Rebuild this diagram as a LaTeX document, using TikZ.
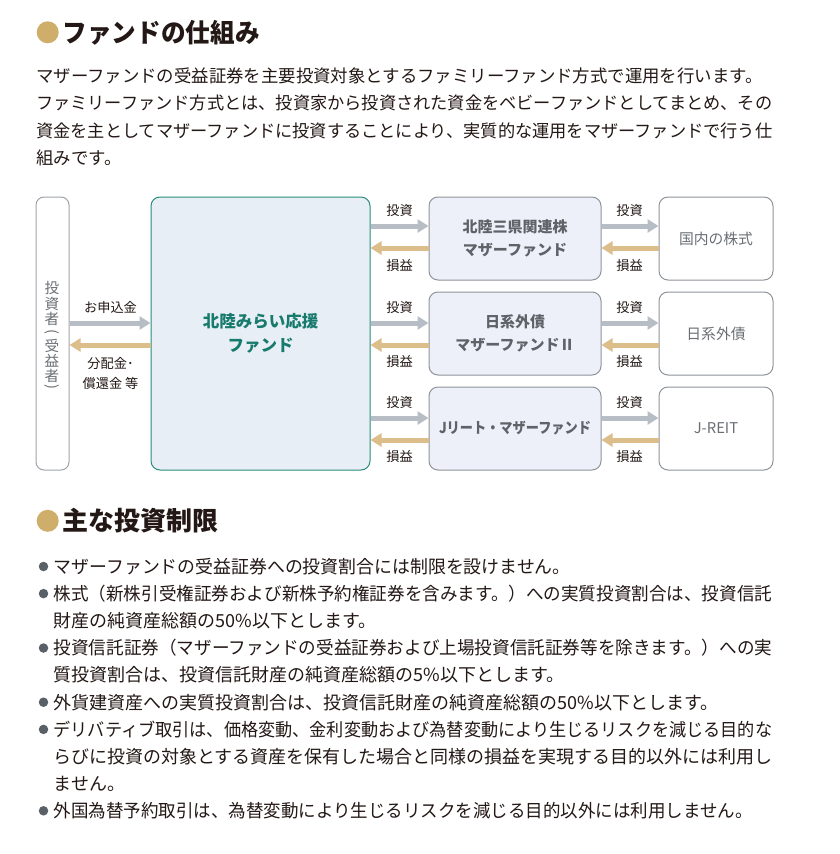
\documentclass[tikz,border=0pt]{standalone}
\usepackage{fontspec}
\setmainfont{Noto Sans CJK JP}
\usepackage{graphicx}
\usetikzlibrary{arrows.meta}
\definecolor{ink}{HTML}{231815}
\definecolor{gold}{HTML}{CFAE6B}
\definecolor{goldarr}{HTML}{DCBE8A}
\definecolor{grayarr}{HTML}{B7BDC4}
\definecolor{mainfill}{HTML}{E7EEF5}
\definecolor{teal}{HTML}{2A8C7C}
\definecolor{tealtext}{HTML}{167A6C}
\definecolor{mfill}{HTML}{EDF0F8}
\definecolor{boxline}{HTML}{8E949B}
\definecolor{mtext}{HTML}{5F6368}
\definecolor{rtext}{HTML}{6B6F74}
\definecolor{bullet}{HTML}{5A6068}
\newsavebox\fitbox
\newcommand\fitto[2]{\sbox\fitbox{#2}\pgfmathsetmacro\fitfac{#1/\wd\fitbox}\scalebox{\fitfac}[1]{\usebox\fitbox}}
\tikzset{
  txt/.style={inner sep=0pt, text=ink},
  para/.style={txt, anchor=west, font=\fontsize{17.4}{17.4}\selectfont, text height=15.3pt, text depth=2.1pt},
  blt/.style={txt, anchor=west, font=\fontsize{18}{18}\selectfont, text height=15.84pt, text depth=2.16pt},
  ttl/.style={txt, anchor=west, font=\fontsize{26}{26}\selectfont\bfseries, text height=22.9pt, text depth=3.1pt},
  dot/.style={circle, fill=gold, inner sep=0pt, minimum size=22pt},
  bdot/.style={circle, fill=bullet, inner sep=0pt, minimum size=9.5pt},
  lbl/.style={txt, font=\fontsize{13.2}{13.2}\selectfont, text height=11.6pt, text depth=1.6pt},
  vt/.style={inner sep=0pt, text=rtext, font=\fontsize{14.6}{14.6}\selectfont},
  invbox/.style={draw=boxline!85, line width=1pt, fill=white, rounded corners=8pt, minimum width=33pt, minimum height=273pt, inner sep=0pt},
  mainbox/.style={draw=teal, line width=1pt, fill=mainfill, rounded corners=9pt, minimum width=219pt, minimum height=273pt, align=center, text=tealtext, font=\fontsize{16.5}{23.5}\selectfont\bfseries},
  mbox/.style={draw=boxline, line width=1pt, fill=mfill, rounded corners=9pt, minimum width=172pt, minimum height=83pt, align=center, text=mtext, font=\fontsize{15}{22.5}\selectfont\bfseries},
  rbox/.style={draw=boxline, line width=1pt, fill=white, rounded corners=9pt, minimum width=114pt, minimum height=83pt, align=center, text=rtext, font=\fontsize{14.8}{22}\selectfont},
  garr/.style={draw=grayarr, line width=5pt, -{Triangle[length=11pt,width=13pt]}},
  oarr/.style={draw=goldarr, line width=5pt, -{Triangle[length=11pt,width=13pt]}},
}
\begin{document}
\begin{tikzpicture}[x=1pt,y=-1pt]
\path[use as bounding box, fill=white] (0,0) rectangle (840,854);

% ---- title 1
\node[dot] (d1) at (47.7,32.3) {};
\node[ttl] (t1) at (62.5,32.3) {\fitto{197}{ファンドの仕組み}};

% ---- paragraph
\node[para] (p1) at (36,76) {マザーファンドの受益証券を主要投資対象とするファミリーファンド方式で運用を行います。};
\node[para] (p2) at (36,103.2) {\fitto{736}{ファミリーファンド方式とは、投資家から投資された資金をベビーファンドとしてまとめ、その}};
\node[para] (p3) at (36,130.4) {\fitto{736}{資金を主としてマザーファンドに投資することにより、実質的な運用をマザーファンドで行う仕}};
\node[para] (p4) at (36,157.6) {組みです。};

% ---- diagram boxes
\node[invbox] (inv) at (52.5,333.5) {};
\foreach \c/\y [count=\i] in {投/288,資/303.5,者/319,{\rotatebox[origin=c]{-90}{(}}/333,受/345.5,益/360.5,者/375.5,{\rotatebox[origin=c]{-90}{)}}/387.5}
  \node[vt] (v\i) at (52,\y) {\c};

\node[mainbox] (main) at (260.5,333.5) {北陸みらい応援\\ファンド};

\node[mbox] (m1) at (515,238.5) {北陸三県関連株\\マザーファンド};
\node[mbox] (m2) at (515,333.5) {日系外債\\マザーファンドⅡ};
\node[mbox] (m3) at (515,428.5) {\fitto{152}{Jリート・マザーファンド}};

\node[rbox] (r1) at (716,238.5) {国内の株式};
\node[rbox] (r2) at (716,333.5) {日系外債};
\node[rbox] (r3) at (716,428.5) {J-REIT};

% ---- investor <-> main
\draw[garr] (inv.east |- 0,323) -- (main.west |- 0,323);
\draw[oarr] (main.west |- 0,345) -- (inv.east |- 0,345);
\node[lbl] (l0a) at (110.5,307.5) {お申込金};
\node[lbl] (l0b) at (110.5,363) {分配金･};
\node[lbl] (l0c) at (110.5,383) {償還金 等};

% ---- main <-> mother, mother <-> assets
\foreach \r/\g/\o/\ti/\tl in {1/226/248/210/265.5, 2/323/345/307/361.5, 3/418/440/402/456.5}{
  \draw[garr] (main.east |- 0,\g) -- (m\r.west |- 0,\g);
  \draw[oarr] (m\r.west |- 0,\o) -- (main.east |- 0,\o);
  \draw[garr] (m\r.east |- 0,\g) -- (r\r.west |- 0,\g);
  \draw[oarr] (r\r.west |- 0,\o) -- (m\r.east |- 0,\o);
  \node[lbl] (ia\r) at (399.5,\ti) {投資};
  \node[lbl] (sa\r) at (399.5,\tl) {損益};
  \node[lbl] (ib\r) at (629.5,\ti) {投資};
  \node[lbl] (sb\r) at (629.5,\tl) {損益};
}

% ---- title 2
\node[dot] (d2) at (47.7,520.8) {};
\node[ttl] (t2) at (62.5,520.8) {主な投資制限};

% ---- bullets
\foreach \y [count=\i] in {566.5,593.6,648,702.2,729.4,810.8}
  \node[bdot] (b\i) at (43.5,\y) {};
\node[blt] (q1) at (53.5,566.5) {\fitto{517}{マザーファンドの受益証券への投資割合には制限を設けません。}};
\node[blt] (q2) at (53.5,593.6) {\fitto{718.5}{株式（新株引受権証券および新株予約権証券を含みます。）への実質投資割合は、投資信託}};
\node[blt] (q3) at (53.5,620.8) {財産の純資産総額の50\%以下とします。};
\node[blt] (q4) at (53.5,648) {\fitto{718.5}{投資信託証券（マザーファンドの受益証券および上場投資信託証券等を除きます。）への実}};
\node[blt] (q5) at (53.5,675) {質投資割合は、投資信託財産の純資産総額の5\%以下とします。};
\node[blt] (q6) at (53.5,702.2) {外貨建資産への実質投資割合は、投資信託財産の純資産総額の50\%以下とします。};
\node[blt] (q7) at (53.5,729.4) {\fitto{718.5}{デリバティブ取引は、価格変動、金利変動および為替変動により生じるリスクを減じる目的な}};
\node[blt] (q8) at (53.5,756.5) {\fitto{718.5}{らびに投資の対象とする資産を保有した場合と同様の損益を実現する目的以外には利用し}};
\node[blt] (q9) at (53.5,783.7) {ません。};
\node[blt] (q10) at (53.5,810.8) {\fitto{699}{外国為替予約取引は、為替変動により生じるリスクを減じる目的以外には利用しません。}};
\end{tikzpicture}
\end{document}
